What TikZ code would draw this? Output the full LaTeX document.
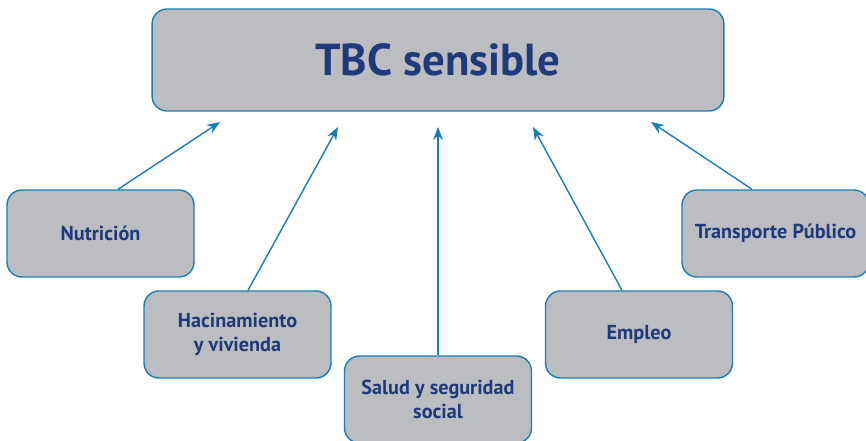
\documentclass[tikz,border=0pt]{standalone}
\usepackage{fontspec}
\setmainfont{PT Sans}
\usetikzlibrary{positioning, arrows.meta}

\definecolor{boxgray}{HTML}{BCBDC0}
\definecolor{edgeblue}{HTML}{1A7DB6}
\definecolor{textblue}{HTML}{1E3A7B}

\begin{document}
\begin{tikzpicture}[
    x=0.02cm, y=-0.02cm,
    factor/.style={rectangle, draw=edgeblue, line width=0.8pt, fill=boxgray, rounded corners=0.3cm,
        minimum width=3.74cm, minimum height=1.74cm, align=center,
        text=textblue, font=\bfseries\fontsize{11.5}{14}\selectfont},
    main/.style={factor, minimum width=11.44cm, minimum height=2.04cm,
        font=\bfseries\fontsize{25.5}{28}\selectfont},
    link/.style={draw=edgeblue, line width=0.8pt, -{Stealth[length=0.26cm, width=0.2cm]}}
]
\useasboundingbox (0,0) rectangle (866,440);

% Nodes
\node[main] (tbc) at (438,60) {TBC sensible};
\node[factor] (nut) at (100.5,233.5) {Nutrición};
\node[factor] (hac) at (237.5,334.5) {Hacinamiento\\ y vivienda};
\node[factor] (sal) at (438,399.5) {Salud y seguridad\\ social};
\node[factor] (emp) at (639,334.5) {Empleo};
\node[factor] (tra) at (775.5,233.5) {Transporte Público};

% Arrow tips below the main box
\coordinate (tnut) at (220,122);
\coordinate (thac) at (338,127);
\coordinate (tsal) at (438,127);
\coordinate (temp) at (533,127);
\coordinate (ttra) at (651,122);

% Edges
\draw[link] ([xshift=0.35cm]nut.north) -- (tnut);
\draw[link] ([xshift=0.21cm]hac.north) -- (thac);
\draw[link] (sal.north) -- (tsal);
\draw[link] ([xshift=-0.34cm]emp.north) -- (temp);
\draw[link] ([xshift=-0.47cm]tra.north) -- (ttra);

\end{tikzpicture}
\end{document}
